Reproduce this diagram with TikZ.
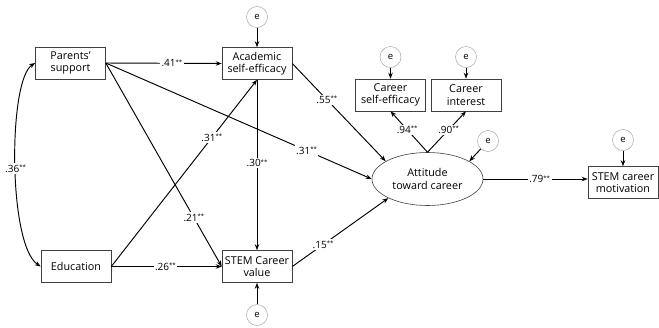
\documentclass[tikz,border=0pt]{standalone}
\usepackage{fontspec}
\setmainfont{Open Sans}
\usetikzlibrary{shapes.geometric,arrows.meta}
\newcommand{\sig}[1]{#1\raisebox{0.45ex}{\fontsize{6}{6}\selectfont **}}
\begin{document}
\begin{tikzpicture}[x=1pt,y=-1pt,
  font=\fontsize{10.8}{12.5}\selectfont,
  vbox/.style={draw=black!75,line width=0.6pt,minimum width=70pt,minimum height=32pt,inner sep=1pt,align=center},
  latent/.style={ellipse,draw=black!75,line width=0.6pt,minimum width=111pt,minimum height=53pt,inner sep=0pt,align=center},
  err/.style={circle,draw=black!35,line width=0.5pt,minimum size=21pt,inner sep=0pt,font=\fontsize{9.5}{10}\selectfont},
  path/.style={line width=0.95pt,-{Stealth[length=6pt,width=4.5pt]}},
  coef/.style={fill=white,inner sep=1.5pt,font=\fontsize{10}{11}\selectfont}]
\useasboundingbox (0,0) rectangle (659,327);
% observed variables
\node[vbox] (ps) at (70.5,63) {Parents'\\support};
\node[vbox] (acad) at (257,63.5) {Academic\\self-efficacy};
\node[vbox] (edu) at (76,266.5) {Education};
\node[vbox] (scv) at (257,266.5) {STEM Career\\value};
\node[vbox] (cse) at (390.5,95) {Career\\self-efficacy};
\node[vbox] (ci) at (466,95) {Career\\interest};
\node[vbox] (mot) at (623,182.5) {STEM career\\motivation};
\node[latent] (att) at (427.5,179) {Attitude\\toward career};
% error terms
\node[err] (e1) at (257,17) {e};
\node[err] (e2) at (257,315) {e};
\node[err] (e3) at (390.5,57) {e};
\node[err] (e4) at (466,57) {e};
\node[err] (e5) at (488,141) {e};
\node[err] (e6) at (623,140) {e};
\draw[path] (e1) -- (acad);
\draw[path] (e2) -- (scv);
\draw[path] (e3) -- (cse);
\draw[path] (e4) -- (ci);
\draw[path] (e5) -- (att.23);
\draw[path] (e6) -- (mot);
% correlation
\draw[line width=0.95pt,{Stealth[length=6pt,width=4.5pt]}-{Stealth[length=6pt,width=4.5pt]}]
  (ps.west) .. controls (8,80) and (8,245) .. node[coef,pos=0.52] {\sig{.36}} (edu.west);
% structural paths
\draw[path] (ps.east) -- node[coef,pos=0.57] {\sig{.41}} (acad.west);
\draw[path] (ps.east) -- node[coef,pos=0.755] {\sig{.31}} (att.west);
\draw[path] (ps.east) -- node[coef,pos=0.76] {\sig{.21}} (scv.west);
\draw[path] (edu.east) -- node[coef,pos=0.69] {\sig{.31}} (acad.south);
\draw[path] (edu.east) -- node[coef,pos=0.49] {\sig{.26}} (scv.west);
\draw[path] (acad.south) -- node[coef,pos=0.49] {\sig{.30}} (scv.north);
\draw[path] (acad.east) -- node[coef,pos=0.37] {\sig{.55}} (att.157);
\draw[path] (scv.east) -- node[coef,pos=0.32] {\sig{.15}} (att.206);
\draw[path] (att.east) -- node[coef,pos=0.54] {\sig{.79}} (mot.west |- att.east);
% measurement paths
\coordinate (atop) at (att.north);
\draw[path] (atop) -- node[coef,pos=0.55] {\sig{.94}} (cse.south);
\draw[path] (atop) -- node[coef,pos=0.55] {\sig{.90}} (ci.south);
\end{tikzpicture}
\end{document}
